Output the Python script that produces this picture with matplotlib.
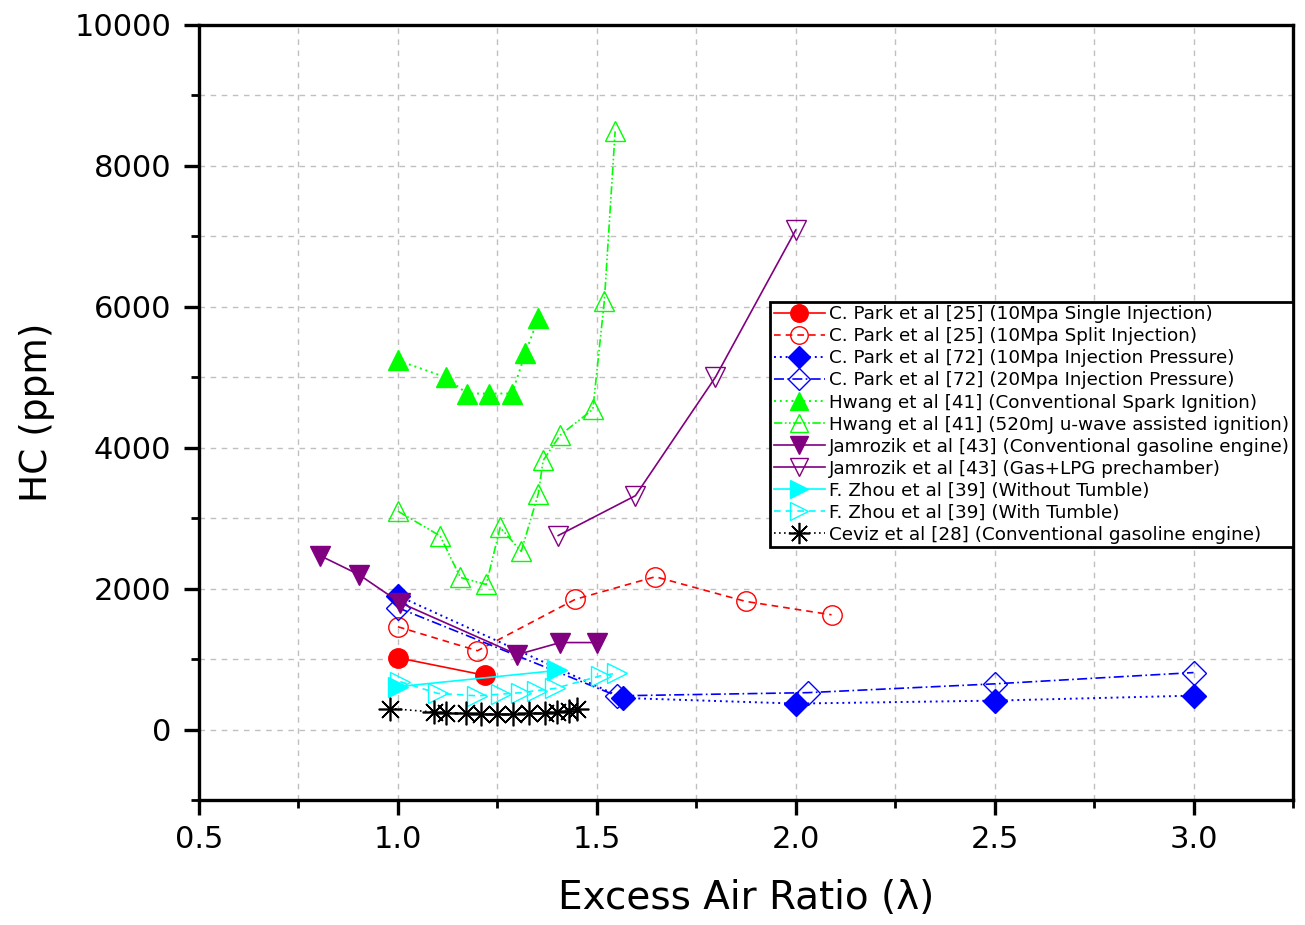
import matplotlib
matplotlib.use("Agg")
import matplotlib.pyplot as plt
from matplotlib.ticker import MultipleLocator

plt.rcParams['font.family'] = ['DejaVu Sans']

# ---- data ----
park25_single_x = [1.0, 1.22]
park25_single_y = [1020, 770]

park25_split_x = [1.0, 1.2, 1.446, 1.647, 1.874, 2.09]
park25_split_y = [1460, 1120, 1850, 2170, 1820, 1630]

park72_10_x = [1.0, 1.565, 2.0, 2.5, 3.0]
park72_10_y = [1900, 450, 370, 412, 483]

park72_20_x = [1.0, 1.55, 2.03, 2.5, 3.0]
park72_20_y = [1730, 480, 525, 650, 810]

hwang_csi_x = [1.0, 1.12, 1.174, 1.23, 1.287, 1.32, 1.353]
hwang_csi_y = [5240, 5000, 4770, 4770, 4770, 5340, 5840]

hwang_mw_x = [1.0, 1.106, 1.157, 1.222, 1.257, 1.31, 1.353, 1.365, 1.408, 1.49, 1.519, 1.546]
hwang_mw_y = [3100, 2750, 2160, 2060, 2870, 2530, 3350, 3820, 4180, 4545, 6090, 8490]

jam_conv_x = [0.804, 0.902, 1.006, 1.30, 1.408, 1.501]
jam_conv_y = [2470, 2200, 1800, 1065, 1236, 1236]

jam_lpg_x = [1.403, 1.597, 1.798, 2.0]
jam_lpg_y = [2755, 3320, 5000, 7090]

zhou_without_x = [1.0, 1.4]
zhou_without_y = [610, 840]

zhou_with_x = [1.006, 1.1, 1.2, 1.26, 1.31, 1.35, 1.395, 1.51, 1.55]
zhou_with_y = [680, 515, 480, 505, 525, 555, 585, 765, 800]

ceviz_x = [0.98, 1.09, 1.12, 1.17, 1.21, 1.25, 1.29, 1.33, 1.37, 1.40, 1.43, 1.45]
ceviz_y = [300, 250, 240, 230, 220, 220, 220, 230, 240, 250, 270, 290]

labels = [
    "C. Park et al [25] (10Mpa Single Injection)",
    "C. Park et al [25] (10Mpa Split Injection)",
    "C. Park et al [72] (10Mpa Injection Pressure)",
    "C. Park et al [72] (20Mpa Injection Pressure)",
    "Hwang et al [41] (Conventional Spark Ignition)",
    "Hwang et al [41] (520mJ u-wave assisted ignition)",
    "Jamrozik et al [43] (Conventional gasoline engine)",
    "Jamrozik et al [43] (Gas+LPG prechamber)",
    "F. Zhou et al [39] (Without Tumble)",
    "F. Zhou et al [39] (With Tumble)",
    "Ceviz et al [28] (Conventional gasoline engine)",
]

red = '#FF0000'
blue = '#0000FF'
green = '#00FF00'
purple = '#800080'
cyan = '#00FFFF'

fig = plt.figure(figsize=(13.05, 9.25), dpi=100)
ax = fig.add_axes([0.1525, 0.135, 0.8383, 0.838])

ms = 14
ax.plot(park25_single_x, park25_single_y, color=red, ls='-', lw=1.2, marker='o', ms=ms,
        mfc=red, mec=red, label=labels[0])
ax.plot(park25_split_x, park25_split_y, color=red, ls=(0, (4, 3)), lw=1.2, marker='o', ms=ms,
        mfc='none', mec=red, label=labels[1])
ax.plot(park72_10_x, park72_10_y, color=blue, ls=(0, (1, 2)), lw=1.4, marker='D', ms=12,
        mfc=blue, mec=blue, label=labels[2])
ax.plot(park72_20_x, park72_20_y, color=blue, ls=(0, (6, 2, 1, 2)), lw=1.2, marker='D', ms=12,
        mfc='none', mec=blue, label=labels[3])
ax.plot(hwang_csi_x, hwang_csi_y, color=green, ls=(0, (1, 2)), lw=1.4, marker='^', ms=ms,
        mfc=green, mec=green, label=labels[4])
ax.plot(hwang_mw_x, hwang_mw_y, color=green, ls=(0, (5, 1.5, 1, 1.5, 1, 1.5)), lw=1.2, marker='^', ms=ms,
        mfc='none', mec=green, label=labels[5])
ax.plot(jam_conv_x, jam_conv_y, color=purple, ls='-', lw=1.2, marker='v', ms=ms,
        mfc=purple, mec=purple, label=labels[6])
ax.plot(jam_lpg_x, jam_lpg_y, color=purple, ls='-', lw=1.2, marker='v', ms=ms,
        mfc='none', mec=purple, label=labels[7])
ax.plot(zhou_without_x, zhou_without_y, color=cyan, ls='-', lw=1.2, marker='>', ms=ms,
        mfc=cyan, mec=cyan, label=labels[8])
ax.plot(zhou_with_x, zhou_with_y, color=cyan, ls=(0, (4, 3)), lw=1.2, marker='>', ms=ms,
        mfc='none', mec=cyan, label=labels[9])
ax.plot(ceviz_x, ceviz_y, color='black', ls=(0, (1, 2)), lw=1.2, marker=(8, 2, 0), ms=17,
        mfc='black', mec='black', mew=1.2, label=labels[10])

ax.set_xlim(0.5, 3.25)
ax.set_ylim(-1000, 10000)
ax.xaxis.set_minor_locator(MultipleLocator(0.25))
ax.yaxis.set_minor_locator(MultipleLocator(1000))
ax.set_xticks([0.5, 1.0, 1.5, 2.0, 2.5, 3.0])
ax.set_xticklabels(['0.5', '1.0', '1.5', '2.0', '2.5', '3.0'])
ax.set_yticks([0, 2000, 4000, 6000, 8000, 10000])

ax.grid(True, which='both', ls=(0, (4, 4)), color='#C0C0C0', lw=1.0)
ax.set_axisbelow(True)

for s in ax.spines.values():
    s.set_linewidth(2.4)
ax.tick_params(axis='both', which='major', direction='out', length=11, width=2.4,
               labelsize=22, top=False, right=False)
ax.tick_params(axis='both', which='minor', direction='out', length=6, width=2.0,
               top=False, right=False)
ax.tick_params(axis='y', which='major', pad=9)
ax.tick_params(axis='x', which='major', pad=7)

ax.set_xlabel('Excess Air Ratio (λ)', fontsize=28, labelpad=18)
ax.set_ylabel('HC (ppm)', fontsize=27, labelpad=14)

leg = ax.legend(loc='upper left', bbox_to_anchor=(0.522, 0.643), fontsize=13.2,
                frameon=True, fancybox=False, edgecolor='black', framealpha=1,
                handlelength=2.8, handletextpad=0.2, labelspacing=0.22,
                borderpad=0.2, borderaxespad=0, markerscale=0.9)
leg.get_frame().set_linewidth(2.0)
leg.set_zorder(5)

fig.savefig('out.png', dpi=100)
